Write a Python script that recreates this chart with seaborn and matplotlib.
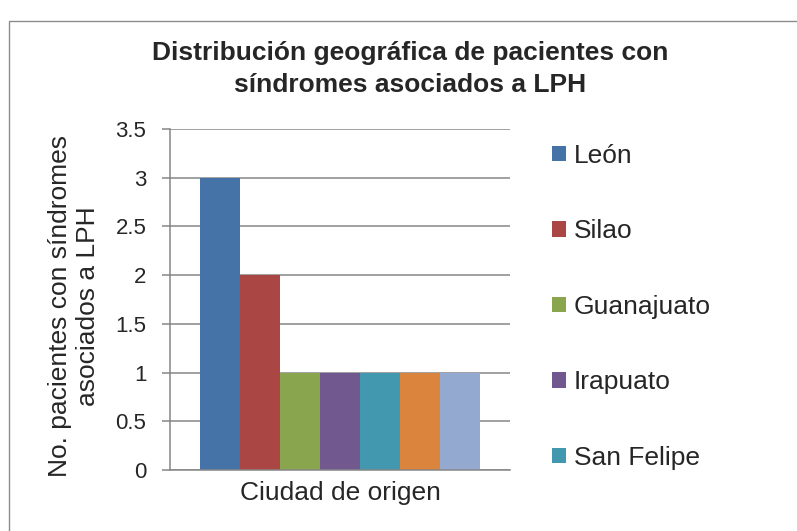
import numpy as np
import pandas as pd
import matplotlib
matplotlib.use("Agg")
import matplotlib.pyplot as plt
import seaborn as sns
from matplotlib.patches import Rectangle

# datos del grafico
ciudades = ["León", "Silao", "Guanajuato", "Irapuato", "San Felipe", "Celaya", "Salamanca"]
pacientes = [3, 2, 1, 1, 1, 1, 1]
colores = ["#4572A7", "#AA4643", "#89A54E", "#71588F", "#4198AF", "#DB843D", "#93A9CF"]
grupo = "Ciudad de origen"
yticks = [0, 0.5, 1, 1.5, 2, 2.5, 3, 3.5]
ytick_labels = ["0", "0.5", "1", "1.5", "2", "2.5", "3", "3.5"]
n_leyenda = 5   # la leyenda original solo muestra las primeras 5

df = pd.DataFrame({"grupo": [grupo] * len(ciudades), "ciudad": ciudades, "pacientes": pacientes})

sns.set_style("white")
plt.rcParams['font.family'] = ['Liberation Sans', 'DejaVu Sans']

fig = plt.figure(figsize=(7.97, 5.31), dpi=100)
ax = fig.add_axes([170 / 797, 1 - 470 / 531, 340 / 797, 341 / 531])

sns.barplot(data=df, x="grupo", y="pacientes", hue="ciudad", palette=colores,
            width=0.8235, saturation=1, ax=ax, legend=True, linewidth=0)

ax.set_xlim(-0.5, 0.5)
ax.set_ylim(0, 3.5)
ax.set_yticks(yticks)
ax.set_yticklabels(ytick_labels)
ax.yaxis.grid(True, color="#868686", linewidth=1.1)
ax.set_axisbelow(True)
for s in ["top", "right"]:
    ax.spines[s].set_visible(False)
for s in ["left", "bottom"]:
    ax.spines[s].set_color("#868686")
    ax.spines[s].set_linewidth(1.1)
ax.tick_params(axis="y", length=6, width=1.1, color="#868686", pad=11, labelsize=16, left=True)
ax.tick_params(axis="x", length=0, pad=8, labelsize=19)
ax.set_xlabel("")
ax.set_ylabel("No. pacientes con síndromes\nasociados a LPH", fontsize=19, linespacing=1.2)
ax.yaxis.set_label_coords(-0.205, 0.48)

h, l = ax.get_legend_handles_labels()
ax.get_legend().remove()
fig.legend(h[:n_leyenda], l[:n_leyenda], loc="upper left", bbox_to_anchor=(552 / 797, 1 - 144 / 531),
           frameon=False, fontsize=19, handlelength=0.52, handleheight=0.52,
           handletextpad=0.3, labelspacing=1.95, borderaxespad=0, borderpad=0)

fig.text(410 / 797, 1 - 69 / 531, "Distribución geográfica de pacientes con\nsíndromes asociados a LPH",
         ha="center", va="center", fontsize=19, fontweight="bold", linespacing=1.4)

fig.patches.append(Rectangle((9 / 797, -0.1), 1.2, 1 - 21 / 531 + 0.1, transform=fig.transFigure,
                             fill=False, edgecolor="#8c8c8c", linewidth=1))

fig.savefig("out.png", dpi=100)
